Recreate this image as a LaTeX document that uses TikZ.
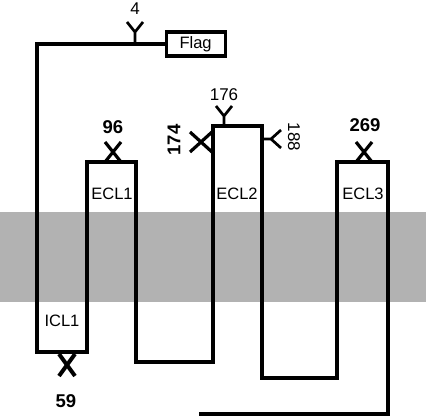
\documentclass[tikz,border=0pt]{standalone}
\usepackage{fontspec}
\setmainfont{Liberation Sans}
\begin{document}
\begin{tikzpicture}[x=1pt,y=-1pt,
  loop/.style={line width=3.2pt, line join=miter, line cap=butt},
  xmark/.style={line width=3.2pt},
  ymark/.style={line width=2.7pt, line join=miter},
  lbl/.style={inner sep=0pt, font=\fontsize{16.5}{19}\selectfont},
  num/.style={inner sep=0pt, font=\fontsize{17}{20}\selectfont},
  bnum/.style={inner sep=0pt, font=\fontsize{18.5}{21}\selectfont\bfseries}]
\useasboundingbox (0,0) rectangle (426,417);
\fill[fill={rgb,255:red,178;green,178;blue,178}] (0,212) rectangle (426,302);
% Flag box
\node[draw, line width=3.2pt, minimum width=59pt, minimum height=24pt, inner sep=0pt,
      font=\fontsize{16.5}{19}\selectfont, anchor=north west] (flag) at (164.5,30.5) {\raisebox{-2pt}{Flag}};
% corners of the chain
\coordinate (c1) at (37,42);
\coordinate (c2) at (37,352);
\coordinate (c3) at (87,352);
\coordinate (c4) at (87,162);
\coordinate (c5) at (136,162);
\coordinate (c6) at (136,362);
\coordinate (c7) at (213,362);
\coordinate (c8) at (213,126);
\coordinate (c9) at (262,126);
\coordinate (c10) at (262,378);
\coordinate (c11) at (337,378);
\coordinate (c12) at (337,162);
\coordinate (c13) at (388,162);
\coordinate (c14) at (388,414);
\coordinate (cend) at (199,414);
\draw[loop] (flag.west) -- (c1 |- flag.west) -- (c2) -- (c3) -- (c4) -- (c5) -- (c6) -- (c7) -- (c8) -- (c9) -- (c10) -- (c11) -- (c12) -- (c13) -- (c14) -- (cend);
% loop labels
\node[lbl] (ecl1) at (112,194) {ECL1};
\node[lbl] (ecl2) at (237,194) {ECL2};
\node[lbl] (ecl3) at (363,194) {ECL3};
\node[lbl] (icl1) at (62,321) {ICL1};
% Y marks
\draw[ymark] (135,42) -- (135,32) -- (127,22) (135,32) -- (143,22);
\node[num] (n4) at (135,9) {4};
\draw[ymark] (224,126) -- (224,116) -- (216,106) (224,116) -- (232,106);
\node[num] (n176) at (224,95) {176};
\draw[ymark] (262,139) -- (271,139) -- (281,130) (271,139) -- (281,148);
\node[num, rotate=-90] (n188) at (294,137) {188};
% X marks
\draw[xmark] (105,142) -- (121,162) (121,142) -- (105,162);
\node[bnum] (n96) at (113,127) {96};
\draw[xmark] (356,142) -- (372,162) (372,142) -- (356,162);
\node[bnum] (n269) at (365,125) {269};
\draw[xmark] (190,132) -- (212,152) (190,152) -- (212,132);
\node[bnum, rotate=90] (n174) at (174,140) {174};
\draw[line width=4pt] (59,354) -- (75,376) (75,354) -- (59,376);
\node[bnum] (n59) at (66,401) {59};
\end{tikzpicture}
\end{document}
